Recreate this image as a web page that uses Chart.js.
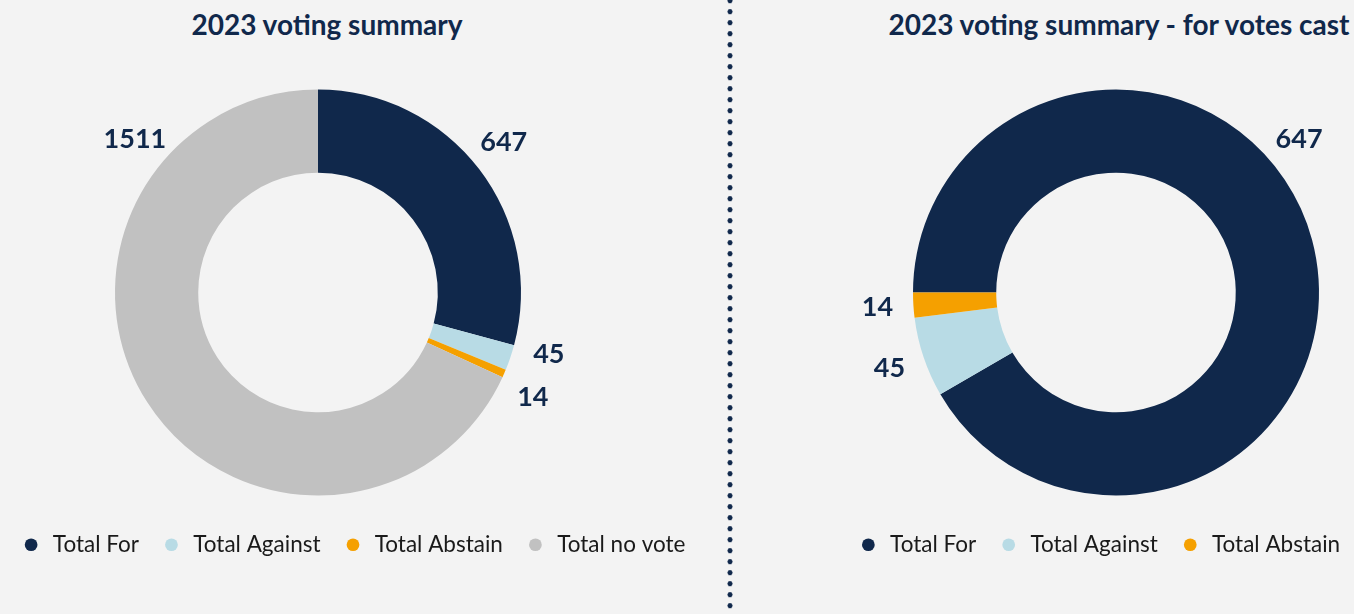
<!DOCTYPE html>
<html>
<head>
<meta charset="utf-8">
<script src="https://cdn.jsdelivr.net/npm/chart.js@4"></script>
<style>
  html, body { margin: 0; padding: 0; background: #f3f3f3; }
  body { width: 1354px; height: 614px; position: relative; overflow: hidden; font-family: Lato, sans-serif; }
  .title { position: absolute; top: 7px; margin: 0; font: bold 28px Lato, sans-serif; color: #10284b; white-space: nowrap; transform: translateX(-50%); }
  .divider {
    position: absolute; left: 727px; top: 0; width: 6px; height: 614px;
    background-image: radial-gradient(circle, #10284b 2.3px, transparent 2.8px);
    background-size: 6px 11px; background-position: 0 -4.8px;
  }
  .box { position: absolute; top: 0; height: 614px; }
</style>
</head>
<body>
<h2 class="title" style="left:327px">2023 voting summary</h2>
<h2 class="title" style="left:1119px">2023 voting summary - for votes cast</h2>
<div class="divider"></div>
<div class="box" style="left:-27px; width:760px"><canvas id="allVotesChart"></canvas></div>
<div class="box" style="left:799px; width:600px"><canvas id="castVotesChart"></canvas></div>
<script>
const allLabels = ['Total For', 'Total Against', 'Total Abstain', 'Total no vote'];
const allValues = [647, 45, 14, 1511];
const castLabels = ['Total For', 'Total Against', 'Total Abstain'];
const castValues = [647, 45, 14];

const colours = ['#10284b', '#b8dbe5', '#f5a000', '#c1c1c1'];

// moves the ring sideways without moving the legend
const ringShift = {
    id: 'ringShift',
    afterLayout(chart, args, opts) {
        const a = chart.chartArea;
        if (opts.shift > 0) a.left += opts.shift * 2;
        else a.right += opts.shift * 2;
        a.width = a.right - a.left;
    }
};

// writes each value next to its slice, outside the ring
const outsideLabels = {
    id: 'outsideLabels',
    afterDatasetsDraw(chart, args, opts) {
        const ctx = chart.ctx;
        const meta = chart.getDatasetMeta(0);
        ctx.save();
        ctx.font = 'bold 27px Lato, sans-serif';
        ctx.fillStyle = '#10284b';
        ctx.textAlign = 'center';
        ctx.textBaseline = 'middle';
        meta.data.forEach((arc, i) => {
            const p = arc.getProps(['x', 'y', 'startAngle', 'endAngle', 'outerRadius'], true);
            let a = (p.startAngle + p.endAngle) / 2;
            if (opts.angles && opts.angles[i] != null) {
                a = opts.angles[i] * Math.PI / 180 - Math.PI / 2;
            }
            const r = p.outerRadius + opts.gap;
            ctx.fillText(chart.data.datasets[0].data[i], p.x + Math.cos(a) * r, p.y + Math.sin(a) * r);
        });
        ctx.restore();
    }
};

function makeChart(id, labels, values, rotation, angles, width, shift) {
    const canvas = document.getElementById(id);
    canvas.width = width;
    canvas.height = 614;
    canvas.style.width = width + 'px';
    canvas.style.height = '614px';
    return new Chart(canvas, {
        type: 'doughnut',
        data: {
            labels: labels,
            datasets: [{
                data: values,
                backgroundColor: colours.slice(0, values.length),
                borderWidth: 0,
                radius: 203,
                rotation: rotation
            }]
        },
        options: {
            responsive: false,
            animation: false,
            cutout: '59%',
            layout: { padding: { top: 73.5, left: 0, right: 0, bottom: 48 } },
            plugins: {
                legend: {
                    position: 'bottom',
                    align: 'center',
                    labels: {
                        usePointStyle: true,
                        pointStyle: 'circle',
                        boxWidth: 21,
                        boxHeight: 9,
                        padding: 22,
                        color: '#1a1a1a',
                        font: { family: 'Lato, sans-serif', size: 22.5 }
                    }
                },
                tooltip: { enabled: false },
                ringShift: { shift: shift },
                outsideLabels: { gap: 36, angles: angles }
            }
        },
        plugins: [ringShift, outsideLabels]
    });
}

makeChart('allVotesChart', allLabels, allValues, 0, [51, 105, 116, 310], 760, -35);
makeChart('castVotesChart', castLabels, castValues, -90, [50, null, null], 600, 17);
</script>
</body>
</html>
